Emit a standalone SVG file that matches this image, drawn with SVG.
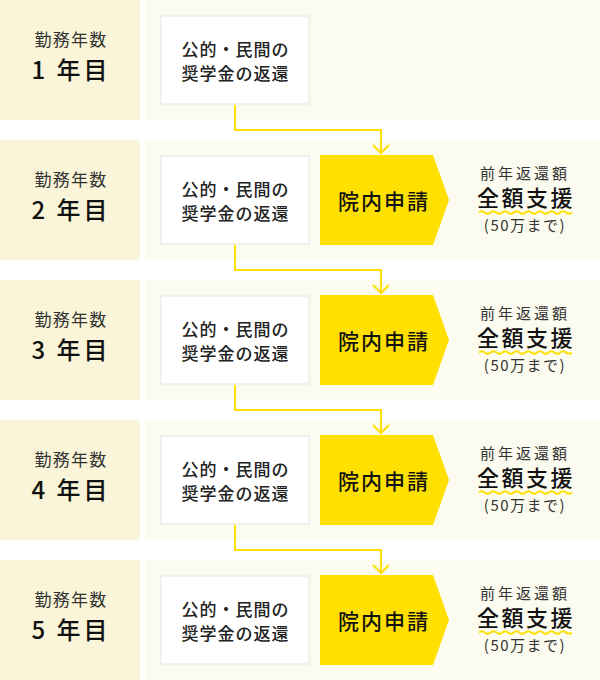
<svg xmlns="http://www.w3.org/2000/svg" width="600" height="680" viewBox="0 0 600 680">
<defs>
<style>
text{font-family:"Noto Sans CJK JP","Noto Sans",sans-serif;text-anchor:middle}
.lp{fill:#faf5d8}
.rp{fill:#fcfbf0}
.box{fill:#ffffff;stroke:#f0f0f0;stroke-width:2}
.pent{fill:#ffe000}
.lbl{font-size:17px;fill:#333;letter-spacing:1.3px}
.yr{font-size:24px;font-weight:500;fill:#111;letter-spacing:3px}
.bt{font-size:17px;font-weight:500;fill:#222;letter-spacing:1px}
.ap{font-size:21px;font-weight:500;fill:#111;letter-spacing:2px}
.pre{font-size:15px;fill:#333;letter-spacing:3px}
.full{font-size:22px;font-weight:500;fill:#111;letter-spacing:2.5px}
.lim{font-size:15px;fill:#333;letter-spacing:1.5px}
.wave{fill:none;stroke:#ffe000;stroke-width:2}
.conn{fill:none;stroke:#ffe000;stroke-width:2}
</style>
<marker id="chev" viewBox="0 0 20 20" refX="10" refY="10" markerWidth="20" markerHeight="20" markerUnits="userSpaceOnUse" orient="auto">
<path d="M2,2 L10,10 L2,18" fill="none" stroke="#ffe000" stroke-width="2"/>
</marker>
<g id="boxtext">
<text class="bt" x="235.5" y="55.5">公的・民間の</text>
<text class="bt" x="235.5" y="80">奨学金の返還</text>
</g>
<g id="support">
<polygon class="pent" points="320,15 433,15 449,60 433,105 320,105"/>
<text class="ap" x="384" y="68.5">院内申請</text>
<text class="pre" x="525" y="38.5">前年返還額</text>
<text class="full" x="526" y="66">全額支援</text>
<path class="wave" d="M479,72.5 q2.9,-2.6 5.8,0 t5.8,0 t5.8,0 t5.8,0 t5.8,0 t5.8,0 t5.8,0 t5.8,0 t5.8,0 t5.8,0 t5.8,0 t5.8,0 t5.8,0 t5.8,0 t5.8,0 t5.8,0"/>
<text class="lim" x="525" y="91">(50万まで)</text>
</g>
</defs>

<g id="year1">
<rect class="lp" x="0" y="0" width="140" height="120"/>
<rect class="rp" x="145" y="0" width="455" height="120"/>
<text class="lbl" x="71" y="45.5">勤務年数</text>
<text class="yr" x="71" y="78.5">1 年目</text>
<rect class="box" x="161" y="16" width="148" height="88"/>
<use href="#boxtext"/>
</g>

<g id="year2" transform="translate(0,140)">
<rect class="lp" x="0" y="0" width="140" height="120"/>
<rect class="rp" x="145" y="0" width="455" height="120"/>
<text class="lbl" x="71" y="45.5">勤務年数</text>
<text class="yr" x="71" y="78.5">2 年目</text>
<rect class="box" x="161" y="16" width="148" height="88"/>
<use href="#boxtext"/>
<use href="#support"/>
</g>

<g id="year3" transform="translate(0,280)">
<rect class="lp" x="0" y="0" width="140" height="120"/>
<rect class="rp" x="145" y="0" width="455" height="120"/>
<text class="lbl" x="71" y="45.5">勤務年数</text>
<text class="yr" x="71" y="78.5">3 年目</text>
<rect class="box" x="161" y="16" width="148" height="88"/>
<use href="#boxtext"/>
<use href="#support"/>
</g>

<g id="year4" transform="translate(0,420)">
<rect class="lp" x="0" y="0" width="140" height="120"/>
<rect class="rp" x="145" y="0" width="455" height="120"/>
<text class="lbl" x="71" y="45.5">勤務年数</text>
<text class="yr" x="71" y="78.5">4 年目</text>
<rect class="box" x="161" y="16" width="148" height="88"/>
<use href="#boxtext"/>
<use href="#support"/>
</g>

<g id="year5" transform="translate(0,560)">
<rect class="lp" x="0" y="0" width="140" height="120"/>
<rect class="rp" x="145" y="0" width="455" height="120"/>
<text class="lbl" x="71" y="45.5">勤務年数</text>
<text class="yr" x="71" y="78.5">5 年目</text>
<rect class="box" x="161" y="16" width="148" height="88"/>
<use href="#boxtext"/>
<use href="#support"/>
</g>

<g id="connectors">
<path class="conn" d="M235,105 V130 H381 V153" marker-end="url(#chev)"/>
<path class="conn" d="M235,245 V270 H381 V293" marker-end="url(#chev)"/>
<path class="conn" d="M235,385 V410 H381 V433" marker-end="url(#chev)"/>
<path class="conn" d="M235,525 V550 H381 V573" marker-end="url(#chev)"/>
</g>
</svg>
